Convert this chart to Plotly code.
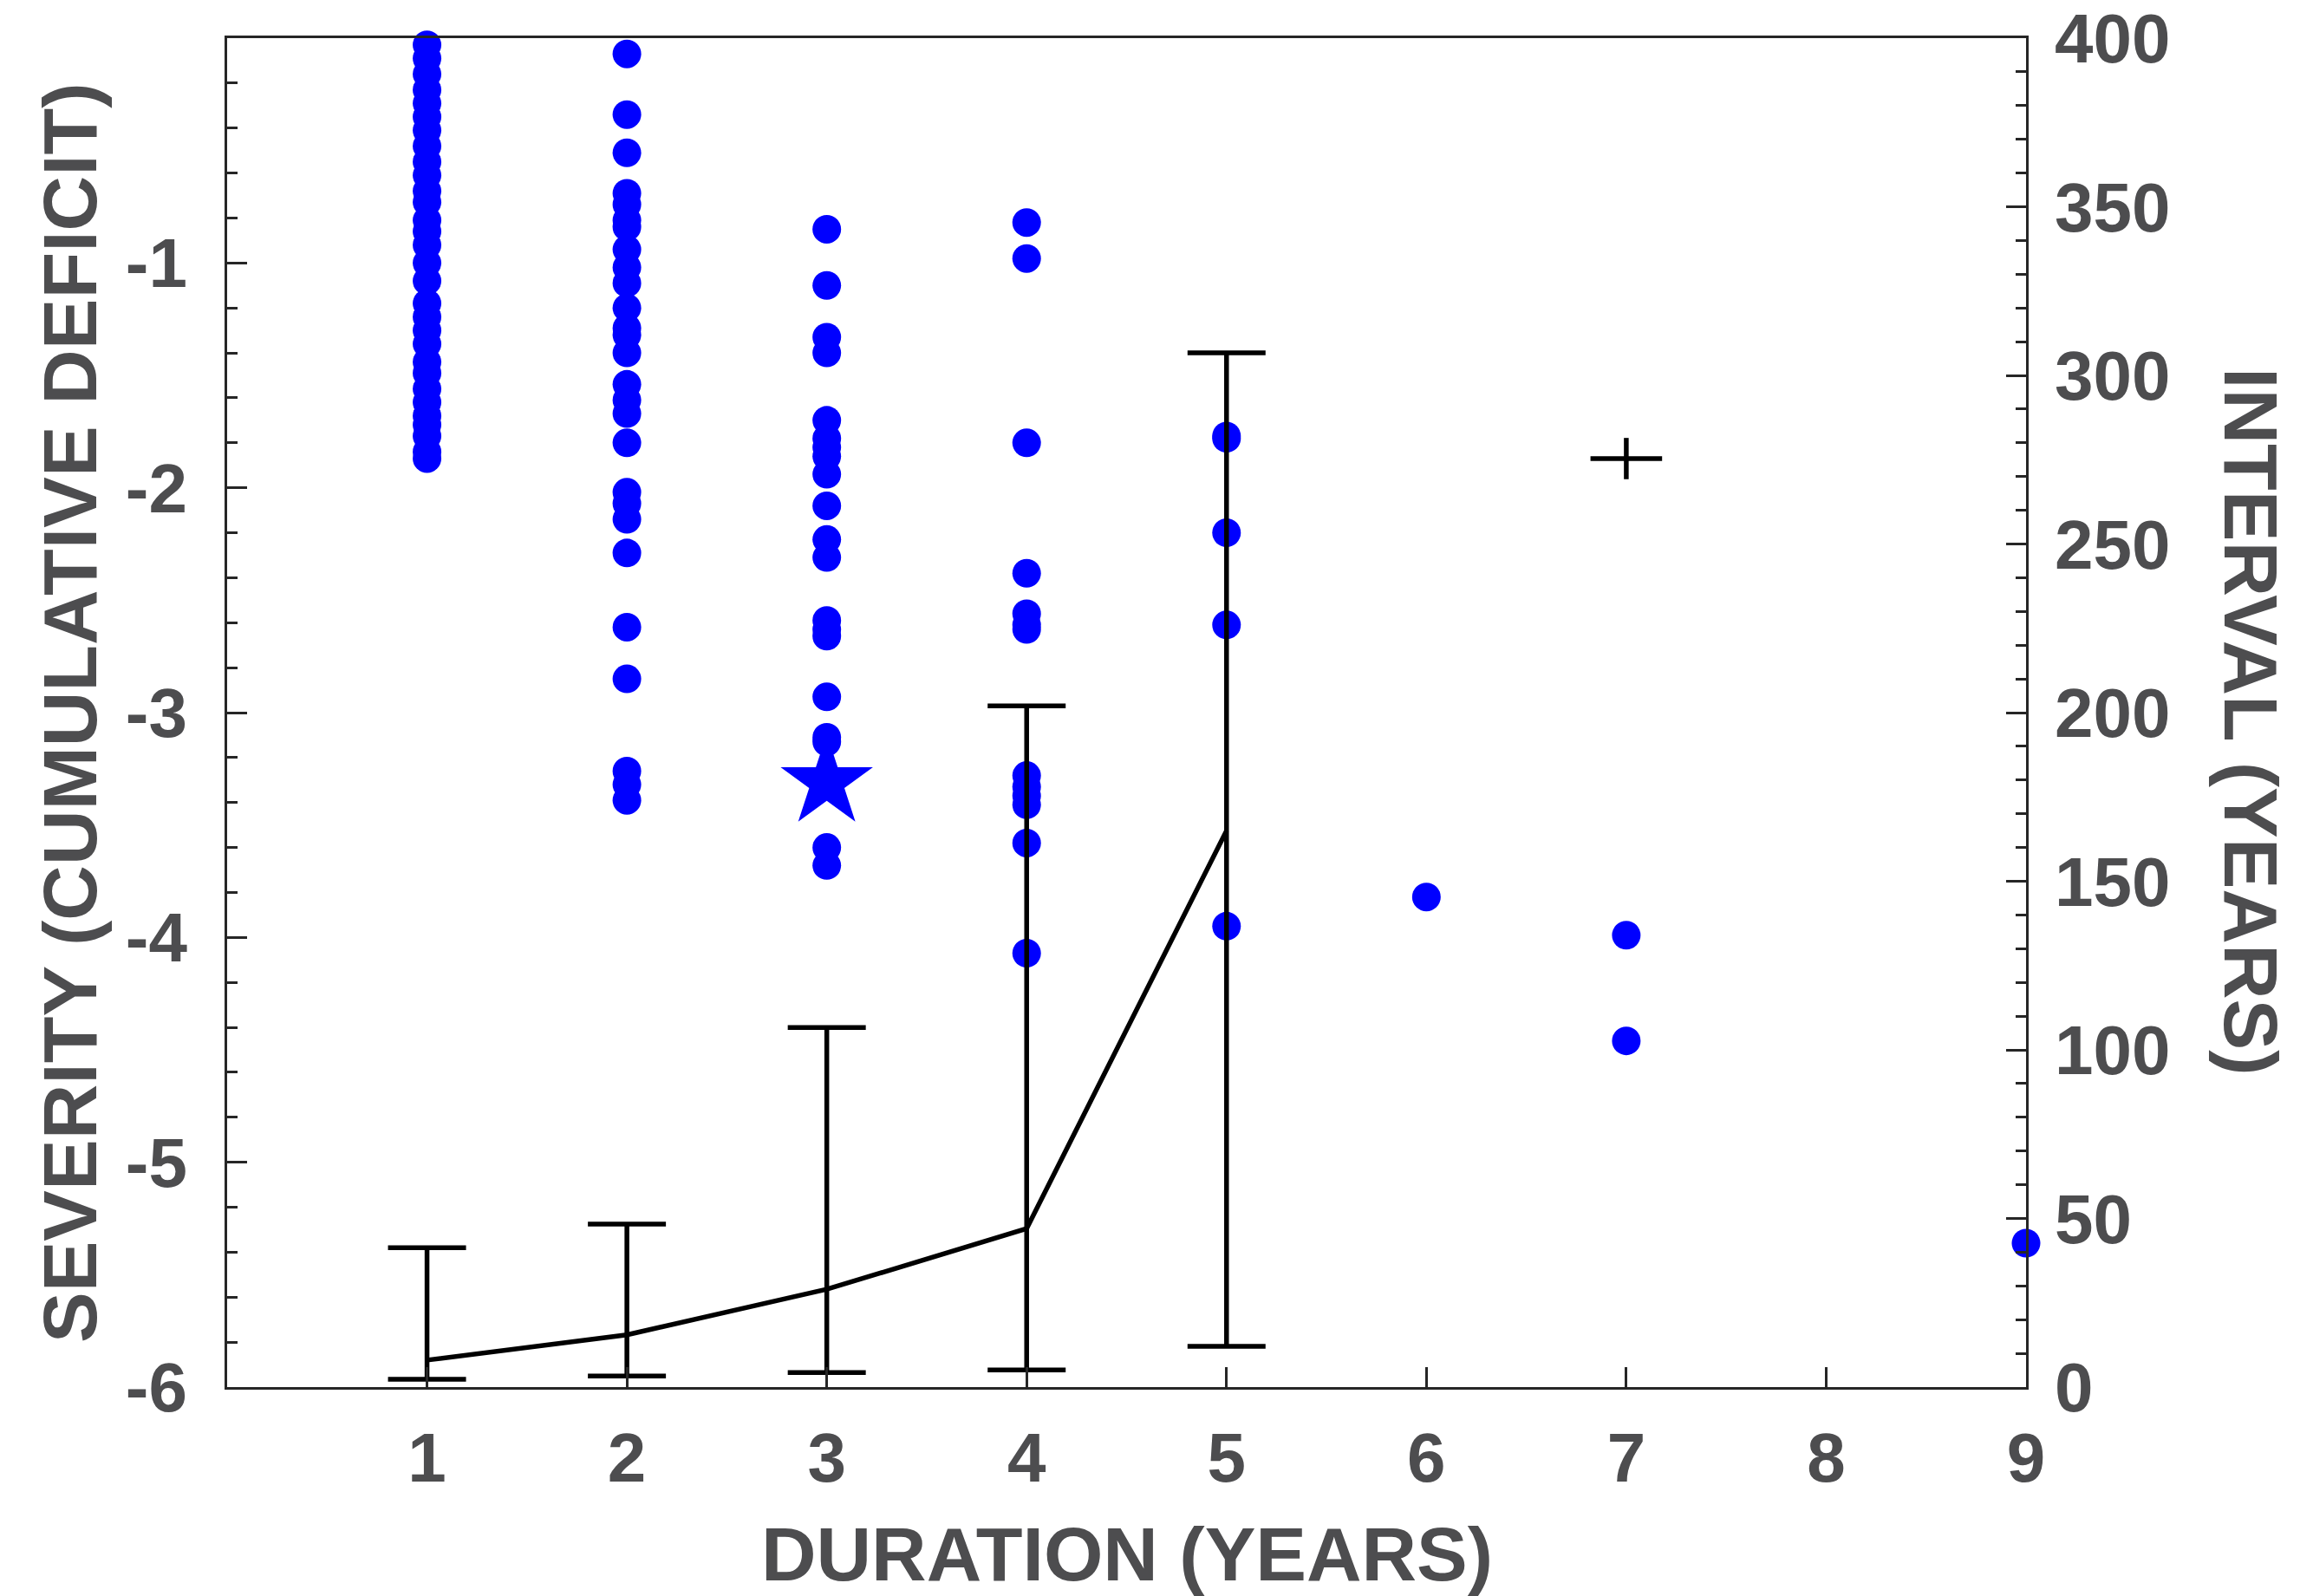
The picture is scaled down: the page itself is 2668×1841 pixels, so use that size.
import plotly.graph_objects as go

# severity of each drought event (cumulative deficit), grouped by duration
dur1_severity = [-0.03, -0.09, -0.16, -0.23, -0.29, -0.35, -0.41, -0.48, -0.55, -0.61,
                 -0.68, -0.73, -0.81, -0.86, -0.92, -1.00, -1.08, -1.18, -1.24, -1.30,
                 -1.36, -1.44, -1.49, -1.56, -1.62, -1.68, -1.72, -1.77, -1.84, -1.87]
dur2_severity = [-0.07, -0.34, -0.51, -0.69, -0.74, -0.81, -0.84, -0.94, -1.02, -1.09,
                 -1.20, -1.29, -1.32, -1.40, -1.54, -1.61, -1.67, -1.80, -2.02, -2.07,
                 -2.14, -2.29, -2.62, -2.85, -3.26, -3.32, -3.39]
dur3_severity = [-0.85, -1.10, -1.33, -1.40, -1.70, -1.78, -1.82, -1.86, -1.94, -2.08,
                 -2.23, -2.31, -2.59, -2.63, -2.66, -2.93, -3.11, -3.13, -3.60, -3.68]
dur4_severity = [-0.82, -0.98, -1.80, -2.38, -2.56, -2.61, -2.63, -3.28, -3.33, -3.37,
                 -3.41, -3.58, -4.07]
dur5_severity = [-1.77, -1.78, -2.20, -2.61, -3.95]
dur6_severity = [-3.82]
dur7_severity = [-3.99, -4.46]
dur9_severity = [-5.36]

# highlighted events
star_duration = [3]
star_severity = [-3.31]
plus_duration = [7]
plus_severity = [-1.87]

# recurrence interval (years) by duration: mean, upper and lower bounds
interval_duration = [1, 2, 3, 4, 5]
interval_mean = [8, 15.5, 29, 47, 165]
interval_upper = [41.3, 48.3, 106.6, 202, 306.7]
interval_lower = [2.3, 3.3, 4.3, 5.1, 12.1]

x_ticks = [1, 2, 3, 4, 5, 6, 7, 8, 9]
left_ticks = [-6, -5, -4, -3, -2, -1]
left_tick_text = ['-6', '-5', '-4', '-3', '-2', '-1']
right_ticks = [0, 50, 100, 150, 200, 250, 300, 350, 400]

FONT = 'Arial, Liberation Sans, sans-serif'
TEXT_COLOR = '#4d4d4f'
AXIS_COLOR = '#262626'
BLUE = '#0000ff'

groups = [(1, dur1_severity), (2, dur2_severity), (3, dur3_severity), (4, dur4_severity),
          (5, dur5_severity), (6, dur6_severity), (7, dur7_severity), (9, dur9_severity)]
scatter_x = []
scatter_y = []
for d, vals in groups:
    scatter_x += [d] * len(vals)
    scatter_y += vals

fig = go.Figure()

fig.add_trace(go.Scatter(
    x=scatter_x, y=scatter_y, mode='markers',
    marker=dict(color=BLUE, size=33, line=dict(width=0)),
    cliponaxis=False, showlegend=False
))

fig.add_trace(go.Scatter(
    x=star_duration, y=star_severity, mode='markers',
    marker=dict(color=BLUE, size=80, symbol='star', line=dict(width=0)),
    cliponaxis=False, showlegend=False
))

# plus sign is wider than tall, so draw its two arms separately
fig.add_trace(go.Scatter(
    x=plus_duration, y=plus_severity, mode='markers',
    marker=dict(color='black', size=59, symbol='line-ew', line=dict(color='black', width=5.5)),
    cliponaxis=False, showlegend=False
))
fig.add_trace(go.Scatter(
    x=plus_duration, y=plus_severity, mode='markers',
    marker=dict(color='black', size=34, symbol='line-ns', line=dict(color='black', width=5.5)),
    cliponaxis=False, showlegend=False
))

err_plus = [u - m for u, m in zip(interval_upper, interval_mean)]
err_minus = [m - l for m, l in zip(interval_mean, interval_lower)]

fig.add_trace(go.Scatter(
    x=interval_duration, y=interval_mean, mode='lines',
    line=dict(color='black', width=5.5),
    error_y=dict(type='data', symmetric=False, array=err_plus, arrayminus=err_minus,
                 color='black', thickness=5.5, width=45),
    yaxis='y2', cliponaxis=False, showlegend=False
))

tick_font = dict(family=FONT, size=80, color=TEXT_COLOR, weight='bold')
title_font = dict(family=FONT, size=88, color=TEXT_COLOR, weight='bold')

# page body has an 8px margin, so the figure is drawn 8px smaller and shifted
fig.update_layout(
    width=2660, height=1833,
    margin=dict(l=254, r=331, t=36, b=241),
    plot_bgcolor='white', paper_bgcolor='white',
    xaxis=dict(
        range=[0, 9], tickvals=x_ticks, ticks='inside', ticklen=23, tickwidth=2.5,
        tickcolor=AXIS_COLOR, showline=True, linecolor=AXIS_COLOR, linewidth=3,
        mirror=True, showgrid=False, zeroline=False, tickfont=tick_font,
        ticklabelstandoff=10, automargin=False, ticklabeloverflow='allow'
    ),
    yaxis=dict(
        range=[-6, 0], tickvals=left_ticks, ticktext=left_tick_text, ticks='inside',
        ticklen=23, tickwidth=2.5, tickcolor=AXIS_COLOR, showline=True,
        linecolor=AXIS_COLOR, linewidth=3, showgrid=False, zeroline=False,
        tickfont=tick_font, ticklabelstandoff=27, automargin=False,
        ticklabeloverflow='allow',
        minor=dict(dtick=0.2, ticks='inside', ticklen=12, tickwidth=2.5,
                   tickcolor=AXIS_COLOR, showgrid=False)
    ),
    yaxis2=dict(
        range=[0, 400], tickvals=right_ticks, overlaying='y', side='right',
        ticks='inside', ticklen=23, tickwidth=2.5, tickcolor=AXIS_COLOR,
        showline=True, linecolor=AXIS_COLOR, linewidth=3, showgrid=False,
        zeroline=False, tickfont=tick_font, ticklabelstandoff=14, automargin=False,
        ticklabeloverflow='allow',
        minor=dict(dtick=10, ticks='inside', ticklen=12, tickwidth=2.5,
                   tickcolor=AXIS_COLOR, showgrid=False)
    ),
    annotations=[
        dict(text='DURATION (YEARS)', x=0.5, y=-0.124, xref='paper', yref='paper',
             xanchor='center', yanchor='middle', showarrow=False, font=title_font),
        dict(text='SEVERITY (CUMULATIVE DEFICIT)', x=-0.0877, y=0.5, xref='paper',
             yref='paper', xanchor='center', yanchor='middle', textangle=-90,
             showarrow=False, font=title_font),
        dict(text='INTERVAL (YEARS)', x=1.1248, y=0.493, xref='paper', yref='paper',
             xanchor='center', yanchor='middle', textangle=90, showarrow=False,
             font=title_font),
    ]
)

fig.write_html("out.html")
